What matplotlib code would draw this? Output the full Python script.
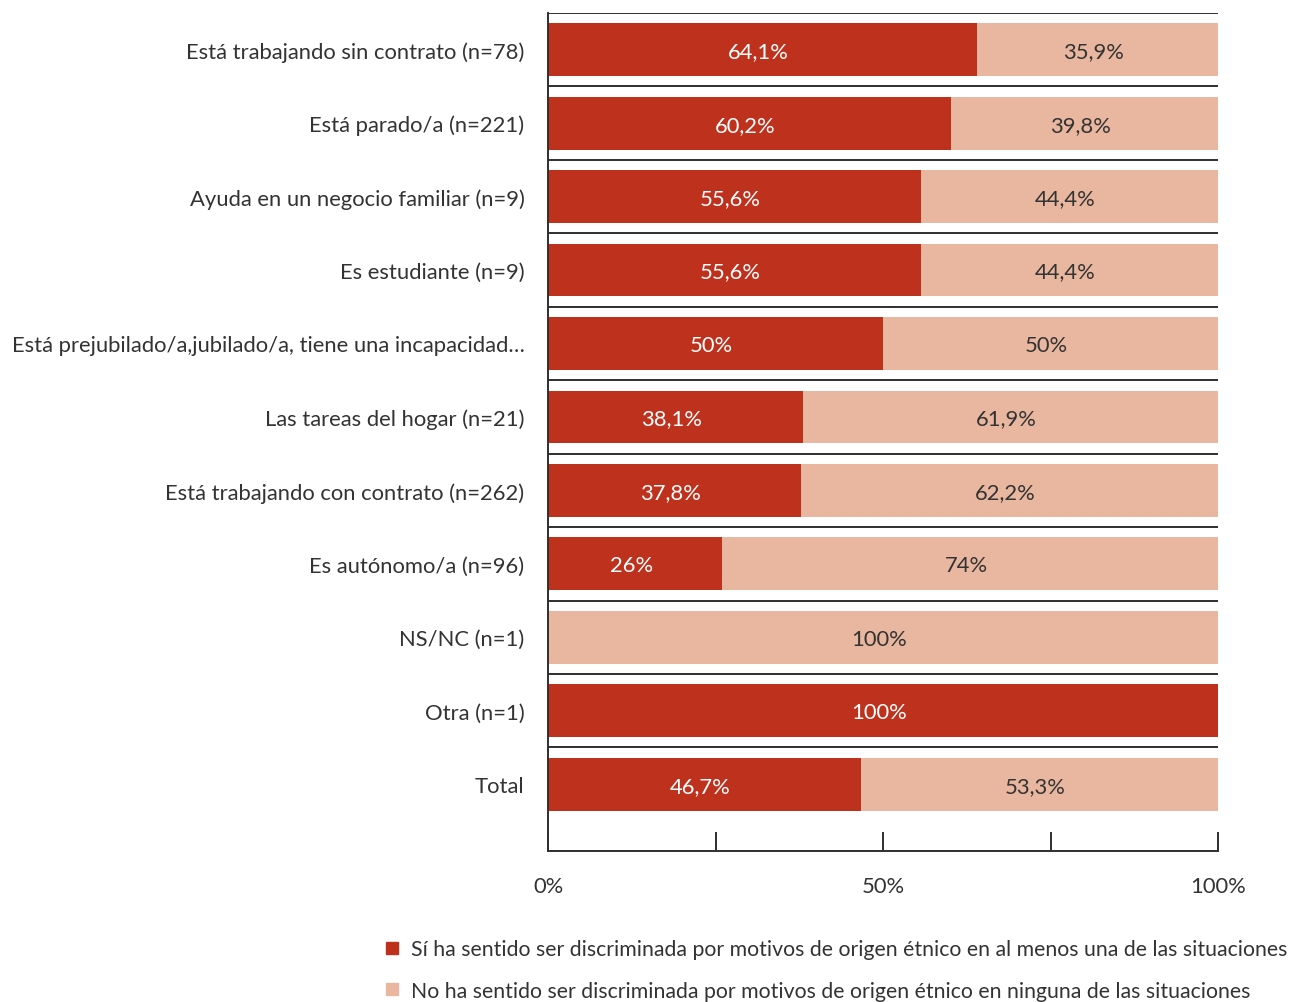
import matplotlib
matplotlib.use("Agg")
import matplotlib.pyplot as plt
from matplotlib.lines import Line2D

plt.rcParams['font.family'] = ['Lato', 'DejaVu Sans']

categories = [
    "Está trabajando sin contrato (n=78)",
    "Está parado/a (n=221)",
    "Ayuda en un negocio familiar (n=9)",
    "Es estudiante (n=9)",
    "Está prejubilado/a,jubilado/a, tiene una incapacidad…",
    "Las tareas del hogar (n=21)",
    "Está trabajando con contrato (n=262)",
    "Es autónomo/a (n=96)",
    "NS/NC (n=1)",
    "Otra (n=1)",
    "Total",
]
si_values = [64.1, 60.2, 55.6, 55.6, 50.0, 38.1, 37.8, 26.0, 0.0, 100.0, 46.7]
no_values = [35.9, 39.8, 44.4, 44.4, 50.0, 61.9, 62.2, 74.0, 100.0, 0.0, 53.3]
series_labels = [
    "Sí ha sentido ser discriminada por motivos de origen étnico en al menos una de las situaciones",
    "No ha sentido ser discriminada por motivos de origen étnico en ninguna de las situaciones",
]
x_ticks = [0, 25, 50, 75, 100]
x_tick_labels = ["0%", "", "50%", "", "100%"]

RED = "#BE311D"
LIGHT = "#E9B79F"
TEXT = "#333333"
LINE = "#2f2f2f"
FS = 15.8
LEG_FS = 15.3


def fmt(v):
    s = f"{v:.1f}".rstrip("0").rstrip(".")
    return s.replace(".", ",") + "%"


fig = plt.figure(figsize=(13.10, 10.03), dpi=100)
ax = fig.add_axes([548 / 1310, 1 - 852 / 1003, 670 / 1310, (852 - 14) / 1003])

ys = list(range(len(categories)))
bh = 0.72
ax.barh(ys, si_values, height=bh, color=RED, linewidth=0)
ax.barh(ys, no_values, left=si_values, height=bh, color=LIGHT, linewidth=0)

for y, s, n in zip(ys, si_values, no_values):
    if s > 0:
        ax.text(s / 2 - 0.6, y + 0.02, fmt(s), ha="center", va="center",
                color="white", fontsize=FS)
    if n > 0:
        ax.text(s + n / 2 - 0.6, y + 0.02, fmt(n), ha="center", va="center",
                color=TEXT, fontsize=FS)

# row separators
for i in range(len(categories)):
    ax.axhline(i - 0.5, color=LINE, linewidth=1.4, zorder=3)

ax.set_xlim(0, 100)
ax.set_ylim(10.91, -0.5)
ax.set_yticks(ys)
ax.set_yticklabels(categories, fontsize=FS, color=TEXT)
ax.tick_params(axis="y", length=0, pad=17)
ax.set_xticks(x_ticks)
ax.set_xticklabels(x_tick_labels, fontsize=FS, color=TEXT)
ax.tick_params(axis="x", direction="in", length=14, width=1.4, color=LINE, pad=18)

for side in ["top", "right"]:
    ax.spines[side].set_visible(False)
for side in ["left", "bottom"]:
    ax.spines[side].set_color(LINE)
    ax.spines[side].set_linewidth(1.4)

handles = [
    Line2D([], [], marker="s", linestyle="none", markersize=9, color=RED),
    Line2D([], [], marker="s", linestyle="none", markersize=9, color=LIGHT),
]
leg = fig.legend(handles, series_labels, loc="upper left",
                 bbox_to_anchor=(375 / 1310, 1 - 932 / 1003),
                 frameon=False, fontsize=LEG_FS, handlelength=0.8,
                 handletextpad=0.5, labelspacing=1.0, borderaxespad=0)
for t in leg.get_texts():
    t.set_color(TEXT)

fig.savefig("out.png", dpi=100)
